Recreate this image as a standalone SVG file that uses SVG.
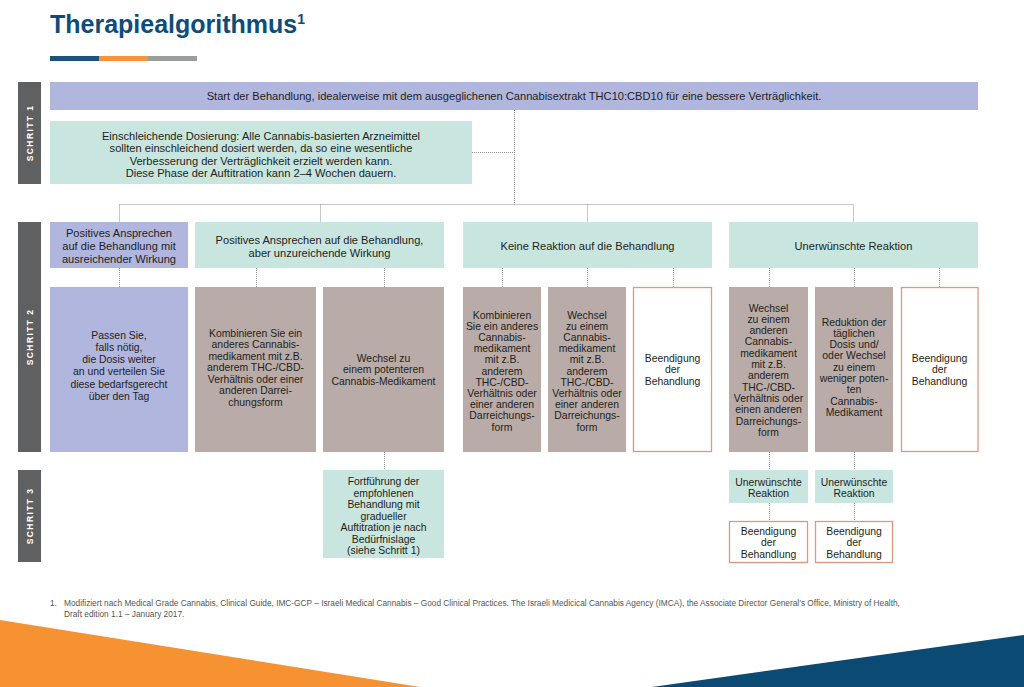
<svg xmlns="http://www.w3.org/2000/svg" width="1024" height="687" viewBox="0 0 1024 687">
<style>
text{font-family:"Liberation Sans",Arial,sans-serif;fill:#231f20;text-anchor:middle}
.t{font-size:11.1px}
.s{font-size:10.4px}
.lav{fill:#b1b6de}
.mint{fill:#c8e5df}
.taupe{fill:#b9aba7}
.end{fill:#fff;stroke:#e5957b;stroke-width:1.3}
.bar{fill:#5f6062}
.bt{font-size:8.5px;font-weight:bold;fill:#fff;letter-spacing:1.4px}
.c{fill:none;stroke:#8f8f8f;stroke-width:1;stroke-dasharray:1 1}
.fn{font-size:8.3px;fill:#555;text-anchor:start}
</style>
<rect width="1024" height="687" fill="#fff"/>
<g id="title">
<text x="50" y="33" style="font-size:25px;font-weight:bold;fill:#0e4c7a;text-anchor:start">Therapiealgorithmus<tspan font-size="14" dy="-9">1</tspan></text>
<rect x="50" y="56" width="49" height="5" fill="#1d527d"/>
<rect x="99" y="56" width="49" height="5" fill="#f6953a"/>
<rect x="148" y="56" width="49" height="5" fill="#9b9c9c"/>
</g>
<g id="steps">
<rect class="bar" x="18" y="82" width="23" height="102"/>
<text class="bt" transform="translate(32.5,133) rotate(-90)">SCHRITT 1</text>
<rect class="bar" x="18" y="222" width="23" height="230"/>
<text class="bt" transform="translate(32.5,337) rotate(-90)">SCHRITT 2</text>
<rect class="bar" x="18" y="470" width="23" height="92"/>
<text class="bt" transform="translate(32.5,516) rotate(-90)">SCHRITT 3</text>
</g>
<g id="connectors">
<path class="c" d="M514.5 110V204.5M472 152.5H514.5M119.5 204.5H853.5M119.5 204.5V222M320.5 204.5V222M587.5 204.5V222M853.5 204.5V222"/>
<path class="c" d="M119.5 268V287M256.5 268V287M384.5 268V287M502.5 268V287M587.5 268V287M673.5 268V287M769.5 268V287M854.5 268V287M939.5 268V287"/>
<path class="c" d="M384.5 452V470M769.5 452V470M854.5 452V470M769.5 503V521M854.5 503V521"/>
</g>
<g id="start">
<rect class="lav" x="50" y="82" width="928" height="28"/>
<text class="t" x="514" y="100">Start der Behandlung, idealerweise mit dem ausgeglichenen Cannabisextrakt THC10:CBD10 für eine bessere Verträglichkeit.</text>
</g>
<g id="dosierung">
<rect class="mint" x="50" y="121" width="422" height="63"/>
<text class="t" x="261" y="140">Einschleichende Dosierung: Alle Cannabis-basierten Arzneimittel</text>
<text class="t" x="261" y="152">sollten einschleichend dosiert werden, da so eine wesentliche</text>
<text class="t" x="261" y="164.5">Verbesserung der Verträglichkeit erzielt werden kann.</text>
<text class="t" x="261" y="177">Diese Phase der Auftitration kann 2–4 Wochen dauern.</text>
</g>
<g id="positiv">
<rect class="lav" x="50" y="222" width="138" height="46"/>
<text class="t" x="119" y="237">Positives Ansprechen</text>
<text class="t" x="119" y="250">auf die Behandlung mit</text>
<text class="t" x="119" y="263">ausreichender Wirkung</text>
</g>
<g id="unzureichend">
<rect class="mint" x="195" y="222" width="249" height="46"/>
<text class="t" x="319.5" y="244">Positives Ansprechen auf die Behandlung,</text>
<text class="t" x="319.5" y="256.5">aber unzureichende Wirkung</text>
</g>
<g id="keine">
<rect class="mint" x="463" y="222" width="249" height="46"/>
<text class="t" x="587.5" y="250">Keine Reaktion auf die Behandlung</text>
</g>
<g id="unerwuenscht">
<rect class="mint" x="729" y="222" width="249" height="46"/>
<text class="t" x="853.5" y="250">Unerwünschte Reaktion</text>
</g>
<g id="passen">
<rect class="lav" x="50" y="287" width="138" height="165"/>
<text class="s" x="119" y="338.5">Passen Sie,</text>
<text class="s" x="119" y="350.8">falls nötig,</text>
<text class="s" x="119" y="363.1">die Dosis weiter</text>
<text class="s" x="119" y="375.4">an und verteilen Sie</text>
<text class="s" x="119" y="387.7">diese bedarfsgerecht</text>
<text class="s" x="119" y="400">über den Tag</text>
</g>
<g id="b1">
<rect class="taupe" x="195" y="287" width="121" height="165"/>
<text class="s" x="255.5" y="336.5">Kombinieren Sie ein</text>
<text class="s" x="255.5" y="348">anderes Cannabis-</text>
<text class="s" x="255.5" y="359.5">medikament mit z.B.</text>
<text class="s" x="255.5" y="371">anderem THC-/CBD-</text>
<text class="s" x="255.5" y="382.5">Verhältnis oder einer</text>
<text class="s" x="255.5" y="394">anderen Darrei-</text>
<text class="s" x="255.5" y="405.5">chungsform</text>
</g>
<g id="b2">
<rect class="taupe" x="323" y="287" width="121" height="165"/>
<text class="s" x="383.5" y="361.5">Wechsel zu</text>
<text class="s" x="383.5" y="373">einem potenteren</text>
<text class="s" x="383.5" y="384.5">Cannabis-Medikament</text>
</g>
<g id="c1">
<rect class="taupe" x="463" y="287" width="78" height="165"/>
<text class="s" x="502" y="318.5">Kombinieren</text>
<text class="s" x="502" y="329.7">Sie ein anderes</text>
<text class="s" x="502" y="340.9">Cannabis-</text>
<text class="s" x="502" y="352.1">medikament</text>
<text class="s" x="502" y="363.3">mit z.B.</text>
<text class="s" x="502" y="374.5">anderem</text>
<text class="s" x="502" y="385.7">THC-/CBD-</text>
<text class="s" x="502" y="396.9">Verhältnis oder</text>
<text class="s" x="502" y="408.1">einer anderen</text>
<text class="s" x="502" y="419.3">Darreichungs-</text>
<text class="s" x="502" y="430.5">form</text>
</g>
<g id="c2">
<rect class="taupe" x="548" y="287" width="78" height="165"/>
<text class="s" x="587" y="318.5">Wechsel</text>
<text class="s" x="587" y="329.7">zu einem</text>
<text class="s" x="587" y="340.9">Cannabis-</text>
<text class="s" x="587" y="352.1">medikament</text>
<text class="s" x="587" y="363.3">mit z.B.</text>
<text class="s" x="587" y="374.5">anderem</text>
<text class="s" x="587" y="385.7">THC-/CBD-</text>
<text class="s" x="587" y="396.9">Verhältnis oder</text>
<text class="s" x="587" y="408.1">einer anderen</text>
<text class="s" x="587" y="419.3">Darreichungs-</text>
<text class="s" x="587" y="430.5">form</text>
</g>
<g id="c3">
<rect class="end" x="633.5" y="287.5" width="78" height="164"/>
<text class="s" x="672.5" y="361.5">Beendigung</text>
<text class="s" x="672.5" y="373">der</text>
<text class="s" x="672.5" y="384.5">Behandlung</text>
</g>
<g id="d1">
<rect class="taupe" x="729" y="287" width="79" height="165"/>
<text class="s" x="768.5" y="311.5">Wechsel</text>
<text class="s" x="768.5" y="322.8">zu einem</text>
<text class="s" x="768.5" y="334.1">anderen</text>
<text class="s" x="768.5" y="345.4">Cannabis-</text>
<text class="s" x="768.5" y="356.7">medikament</text>
<text class="s" x="768.5" y="368">mit z.B.</text>
<text class="s" x="768.5" y="379.3">anderem</text>
<text class="s" x="768.5" y="390.6">THC-/CBD-</text>
<text class="s" x="768.5" y="401.9">Verhältnis oder</text>
<text class="s" x="768.5" y="413.2">einen anderen</text>
<text class="s" x="768.5" y="424.5">Darreichungs-</text>
<text class="s" x="768.5" y="435.8">form</text>
</g>
<g id="d2">
<rect class="taupe" x="815" y="287" width="78" height="165"/>
<text class="s" x="854" y="325.5">Reduktion der</text>
<text class="s" x="854" y="336.8">täglichen</text>
<text class="s" x="854" y="348.1">Dosis und/</text>
<text class="s" x="854" y="359.4">oder Wechsel</text>
<text class="s" x="854" y="370.7">zu einem</text>
<text class="s" x="854" y="382">weniger poten-</text>
<text class="s" x="854" y="393.3">ten</text>
<text class="s" x="854" y="404.6">Cannabis-</text>
<text class="s" x="854" y="415.9">Medikament</text>
</g>
<g id="d3">
<rect class="end" x="901.5" y="287.5" width="76.5" height="164"/>
<text class="s" x="939.5" y="361.5">Beendigung</text>
<text class="s" x="939.5" y="373">der</text>
<text class="s" x="939.5" y="384.5">Behandlung</text>
</g>
<g id="fortfuehrung">
<rect class="mint" x="323" y="470" width="121" height="88"/>
<text class="s" x="383.5" y="485">Fortführung der</text>
<text class="s" x="383.5" y="496.5">empfohlenen</text>
<text class="s" x="383.5" y="508">Behandlung mit</text>
<text class="s" x="383.5" y="519.5">gradueller</text>
<text class="s" x="383.5" y="531">Auftitration je nach</text>
<text class="s" x="383.5" y="542.5">Bedürfnislage</text>
<text class="s" x="383.5" y="554">(siehe Schritt 1)</text>
</g>
<g id="d1-reaktion">
<rect class="mint" x="729" y="470" width="79" height="33"/>
<text class="s" x="768.5" y="486">Unerwünschte</text>
<text class="s" x="768.5" y="497">Reaktion</text>
</g>
<g id="d2-reaktion">
<rect class="mint" x="815" y="470" width="78" height="33"/>
<text class="s" x="854" y="486">Unerwünschte</text>
<text class="s" x="854" y="497">Reaktion</text>
</g>
<g id="d1-ende">
<rect class="end" x="729.5" y="521.5" width="78" height="41"/>
<text class="s" x="768.5" y="534.5">Beendigung</text>
<text class="s" x="768.5" y="546">der</text>
<text class="s" x="768.5" y="557.5">Behandlung</text>
</g>
<g id="d2-ende">
<rect class="end" x="815.5" y="521.5" width="77" height="41"/>
<text class="s" x="854" y="534.5">Beendigung</text>
<text class="s" x="854" y="546">der</text>
<text class="s" x="854" y="557.5">Behandlung</text>
</g>
<g id="footnote">
<text class="fn" x="50" y="606">1.</text>
<text class="fn" x="64" y="606">Modifiziert nach Medical Grade Cannabis, Clinical Guide, IMC-GCP – Israeli Medical Cannabis – Good Clinical Practices. The Israeli Medicical Cannabis Agency (IMCA), the Associate Director General’s Office, Ministry of Health,</text>
<text class="fn" x="64" y="617">Draft edition 1.1 – January 2017.</text>
</g>
<g id="decoration">
<polygon points="0,620 420,687 0,687" fill="#f79232"/>
<polygon points="652,687 1024,635 1024,687" fill="#0b4a73"/>
</g>
</svg>
